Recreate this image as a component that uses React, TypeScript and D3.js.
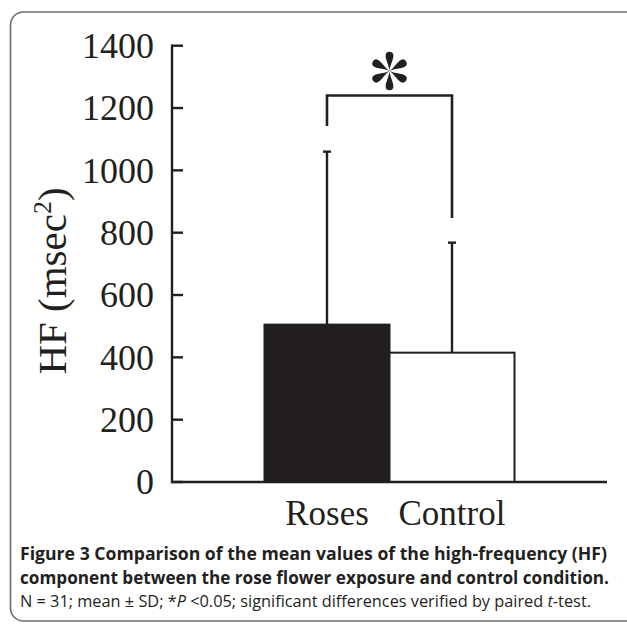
import * as d3 from 'd3';

// HF power, mean ± SD
const CATEGORIES = ['Roses', 'Control'];
const MEANS = [505, 415];
const SD_TOPS = [1060, 768];
const BAR_FILLS = ['#231f20', '#ffffff'];
const Y_TICKS = [0, 200, 400, 600, 800, 1000, 1200, 1400];

// significance bracket (data units)
const BRACKET_TOP = 1240;
const BRACKET_LEGS = [1142, 847];

const CAPTION_1 = ['Figure 3', ' Comparison of the mean values of the high-frequency (HF)'];
const CAPTION_2 = 'component between the rose flower exposure and control condition.';

const INK = '#231f20';
const SERIF = '"Liberation Serif", "Times New Roman", serif';
const SANS = '"Open Sans", "Noto Sans", sans-serif';

const W = 627;
const H = 629;

function Asterisk({ cx, cy }: { cx: number; cy: number }) {
  // six teardrop spokes
  const lobe = 'M0,0 C-0.5,-6 -3.9,-11 -3.9,-15.3 A3.9,3.9 0 1 1 3.9,-15.3 C3.9,-11 0.5,-6 0,0 Z';
  return (
    <g transform={`translate(${cx},${cy})`} fill={INK}>
      {d3.range(6).map((i) => (
        <path key={i} d={lobe} transform={`rotate(${i * 60})`} />
      ))}
    </g>
  );
}

export default function App() {
  const y = d3.scaleLinear().domain([0, 1400]).range([482, 45.7]);
  const x = d3.scaleBand<string>().domain(CATEGORIES).range([172, 607]).paddingInner(0).paddingOuter(0.74);
  const xLeft = 172;
  const xRight = 607;
  const bw = x.bandwidth();
  const cx = (c: string) => (x(c) ?? 0) + bw / 2;

  const legX = CATEGORIES.map(cx);

  return (
    <svg width={W} height={H} style={{ position: 'absolute', left: 0, top: 0, background: '#fff' }}>
      {/* frame */}
      <rect x={10.5} y={12} width={660} height={609} rx={13} fill="none" stroke="#6d6e71" strokeWidth={1.6} />

      {/* bars */}
      {CATEGORIES.map((c, i) => (
        <rect
          key={c}
          x={x(c)}
          y={y(MEANS[i])}
          width={bw}
          height={y(0) - y(MEANS[i])}
          fill={BAR_FILLS[i]}
          stroke={INK}
          strokeWidth={2}
        />
      ))}

      {/* error bars */}
      {CATEGORIES.map((c, i) => (
        <g key={c} stroke={INK} strokeWidth={2.4}>
          <line x1={cx(c)} x2={cx(c)} y1={y(MEANS[i])} y2={y(SD_TOPS[i])} />
          <line x1={cx(c) - 4} x2={cx(c) + 4} y1={y(SD_TOPS[i])} y2={y(SD_TOPS[i])} />
        </g>
      ))}

      {/* axes */}
      <g stroke={INK} strokeWidth={2.4} fill="none">
        <line x1={xLeft} x2={xLeft} y1={y(1400) - 1.2} y2={y(0) + 1.2} />
        <line x1={xLeft} x2={xRight} y1={y(0)} y2={y(0)} />
        {Y_TICKS.map((t) => (
          <line key={t} x1={xLeft} x2={xLeft + 11} y1={y(t)} y2={y(t)} />
        ))}
      </g>
      {Y_TICKS.map((t) => (
        <text
          key={t}
          x={154}
          y={y(t)}
          dy="0.34em"
          textAnchor="end"
          fontFamily={SERIF}
          fontSize={36}
          fill={INK}
        >
          {t}
        </text>
      ))}

      {/* y label */}
      <text
        transform="translate(66,281) rotate(-90)"
        textAnchor="middle"
        fontFamily={SERIF}
        fontSize={41}
        fill={INK}
      >
        HF (msec
        <tspan fontSize={26} dy={-15}>2</tspan>
        <tspan dy={15}>)</tspan>
      </text>

      {/* category labels */}
      {CATEGORIES.map((c) => (
        <text key={c} x={cx(c)} y={525} textAnchor="middle" fontFamily={SERIF} fontSize={35} fill={INK}>
          {c}
        </text>
      ))}

      {/* significance bracket */}
      <path
        d={`M${legX[0]},${y(BRACKET_LEGS[0])} V${y(BRACKET_TOP)} H${legX[1]} V${y(BRACKET_LEGS[1])}`}
        fill="none"
        stroke={INK}
        strokeWidth={2.6}
      />
      <Asterisk cx={(legX[0] + legX[1]) / 2} cy={71} />

      {/* caption */}
      <text x={20} y={560} fontFamily={SANS} fontSize={17.5} fontWeight={700} fill={INK} textLength={587} lengthAdjust="spacingAndGlyphs">
        <tspan>{CAPTION_1[0]}</tspan>
        <tspan>{CAPTION_1[1]}</tspan>
      </text>
      <text x={20} y={584} fontFamily={SANS} fontSize={17.5} fontWeight={700} fill={INK} textLength={589} lengthAdjust="spacingAndGlyphs">
        {CAPTION_2}
      </text>
      <text x={20} y={607} fontFamily={SANS} fontSize={16} fill={INK} textLength={571} lengthAdjust="spacingAndGlyphs">
        N = 31; mean ± SD; *<tspan fontStyle="italic">P</tspan> &lt;0.05; significant differences verified by paired{' '}
        <tspan fontStyle="italic">t</tspan>-test.
      </text>
    </svg>
  );
}
